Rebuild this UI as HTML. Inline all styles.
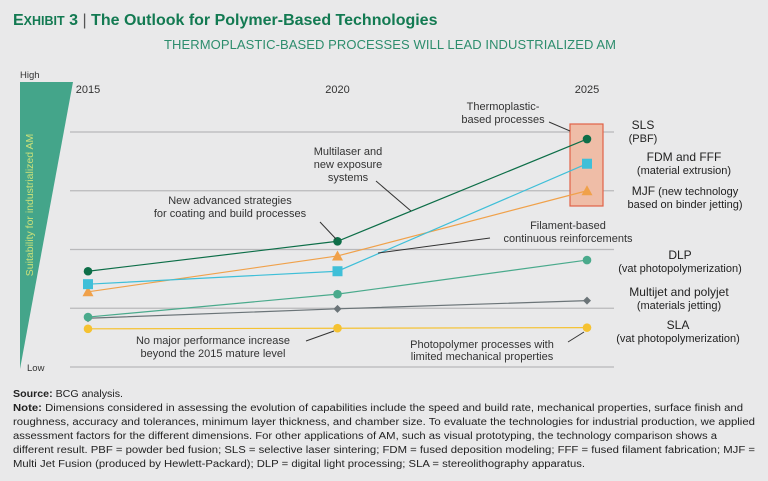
<!DOCTYPE html>
<html><head><meta charset="utf-8"><style>
body{margin:0;background:#e9e9ea;}
svg{display:block;font-family:"Liberation Sans",sans-serif;}
</style></head><body>
<svg id="c" width="768" height="481" viewBox="0 0 768 481">
<rect width="768" height="481" fill="#e9e9ea"/>
<text x="13" y="25" font-size="16" font-weight="bold" fill="#137a52">E<tspan font-size="12.5">XHIBIT</tspan> 3 <tspan font-weight="normal" fill="#555">|</tspan> The Outlook for Polymer-Based Technologies</text>
<text x="390" y="49" font-size="13" fill="#2d8d6d" text-anchor="middle" textLength="452">THERMOPLASTIC-BASED PROCESSES WILL LEAD INDUSTRIALIZED AM</text>
<text x="20" y="78" font-size="9.5" fill="#333">High</text>
<text x="27" y="371" font-size="9.5" fill="#333">Low</text>
<polygon points="20,82 73,82 20,369" fill="#44a58a"/>
<text transform="translate(33,205) rotate(-90)" font-size="10.5" fill="#c9e07a" text-anchor="middle">Suitability for industrialized AM</text>
<g id="grid"></g>
<rect x="570" y="124" width="33" height="82" fill="#efbda7" stroke="#e06248" stroke-width="1.2"/>
<g id="series"></g>
<g id="labels" font-size="11" fill="#222" text-anchor="middle">
<text x="643" y="129" font-size="12">SLS</text>
<text x="643" y="142">(PBF)</text>
<text x="684" y="161" font-size="12">FDM and FFF</text>
<text x="684" y="174">(material extrusion)</text>
<text x="685" y="195"><tspan font-size="12">MJF</tspan> (new technology</text>
<text x="685" y="208">based on binder jetting)</text>
<text x="680" y="259" font-size="12">DLP</text>
<text x="680" y="272">(vat photopolymerization)</text>
<text x="679" y="296" font-size="12">Multijet and polyjet</text>
<text x="679" y="309">(materials jetting)</text>
<text x="678" y="329" font-size="12">SLA</text>
<text x="678" y="342">(vat photopolymerization)</text>
</g>
<g font-size="11" fill="#333" text-anchor="middle" stroke-width="1">
<text x="503" y="110">Thermoplastic-</text>
<text x="503" y="123">based processes</text>
<line x1="549" y1="122" x2="570" y2="131" stroke="#333"/>
<text x="348" y="155">Multilaser and</text>
<text x="348" y="168">new exposure</text>
<text x="348" y="181">systems</text>
<line x1="376" y1="181" x2="411" y2="211" stroke="#333"/>
<text x="230" y="204">New advanced strategies</text>
<text x="230" y="217">for coating and build processes</text>
<line x1="320" y1="222" x2="336" y2="239" stroke="#333"/>
<text x="568" y="229">Filament-based</text>
<text x="568" y="242">continuous reinforcements</text>
<line x1="490" y1="238" x2="378" y2="253" stroke="#333"/>
<text x="213" y="344">No major performance increase</text>
<text x="213" y="357">beyond the 2015 mature level</text>
<line x1="306" y1="341" x2="334" y2="331" stroke="#333"/>
<text x="482" y="348">Photopolymer processes with</text>
<text x="482" y="360">limited mechanical properties</text>
<line x1="568" y1="342" x2="584" y2="332" stroke="#333"/>
</g>
<g font-size="10" fill="#222">
<text x="13" y="397" textLength="110" lengthAdjust="spacingAndGlyphs"><tspan font-weight="bold">Source:</tspan> BCG analysis.</text>
<text x="13" y="411" textLength="730" lengthAdjust="spacingAndGlyphs"><tspan font-weight="bold">Note:</tspan> Dimensions considered in assessing the evolution of capabilities include the speed and build rate, mechanical properties, surface finish and</text>
<text x="13" y="425" textLength="742" lengthAdjust="spacingAndGlyphs">roughness, accuracy and tolerances, minimum layer thickness, and chamber size. To evaluate the technologies for industrial production, we applied</text>
<text x="13" y="439" textLength="704" lengthAdjust="spacingAndGlyphs">assessment factors for the different dimensions. For other applications of AM, such as visual prototyping, the technology comparison shows a</text>
<text x="13" y="453" textLength="742" lengthAdjust="spacingAndGlyphs">different result. PBF = powder bed fusion; SLS = selective laser sintering; FDM = fused deposition modeling; FFF = fused filament fabrication; MJF =</text>
<text x="13" y="467" textLength="572" lengthAdjust="spacingAndGlyphs">Multi Jet Fusion (produced by Hewlett-Packard); DLP = digital light processing; SLA = stereolithography apparatus.</text>
</g>
</svg>
<script>
const years = ["2015","2020","2025"];
const gridValues = [0,1,2,3,4];
const slsValues = [1.63,2.14,3.88];
const fdmValues = [1.41,1.63,3.46];
const mjfValues = [1.28,1.89,3.0];
const dlpValues = [0.85,1.24,1.82];
const multijetValues = [0.83,0.99,1.13];
const slaValues = [0.65,0.66,0.67];

const NS="http://www.w3.org/2000/svg";
function xScale(i){return 88+i*249.5;}
function yScale(v){return 367-v*58.75;}
function mk(tag,attrs,parent){const e=document.createElementNS(NS,tag);for(const k in attrs)e.setAttribute(k,attrs[k]);parent.appendChild(e);return e;}
const grid=document.getElementById('grid');
gridValues.forEach(v=>{
  const l=mk('line',{x1:70,x2:614,y1:yScale(v),y2:yScale(v),stroke:'#b9b9bb','stroke-width':1.3},grid);
  
  
});
years.forEach((y,i)=>{
  const t=mk('text',{x:xScale(i),y:93,'font-size':11,fill:'#333','text-anchor':'middle'},grid);
  t.textContent=y;
  
  
});
const sg=document.getElementById('series');
function drawSeries(vals,color,shape,name){
  const pts=vals.map((v,i)=>xScale(i)+','+yScale(v)).join(' ');
  const pl=mk('polyline',{points:pts,fill:'none',stroke:color,'stroke-width':1.2},sg);
  
  
  vals.forEach((v,i)=>{
    const x=xScale(i),y=yScale(v);let m;
    if(shape==='circle')m=mk('circle',{cx:x,cy:y,r:4.3,fill:color},sg);
    else if(shape==='square')m=mk('rect',{x:x-5,y:y-5,width:10,height:10,fill:color},sg);
    else if(shape==='tri')m=mk('polygon',{points:`${x},${y-5.5} ${x+5.5},${y+4.5} ${x-5.5},${y+4.5}`,fill:color},sg);
    else m=mk('polygon',{points:`${x},${y-4} ${x+4},${y} ${x},${y+4} ${x-4},${y}`,fill:color},sg);
    
    
  });
}
drawSeries(slaValues,'#f5c232','circle','sla');
drawSeries(multijetValues,'#6b7478','diamond','multijet');
drawSeries(dlpValues,'#4aaa8c','circle','dlp');
drawSeries(mjfValues,'#f0a14a','tri','mjf');
drawSeries(fdmValues,'#3fbfd8','square','fdm');
drawSeries(slsValues,'#0d6e48','circle','sls');
</script>
</body></html>
